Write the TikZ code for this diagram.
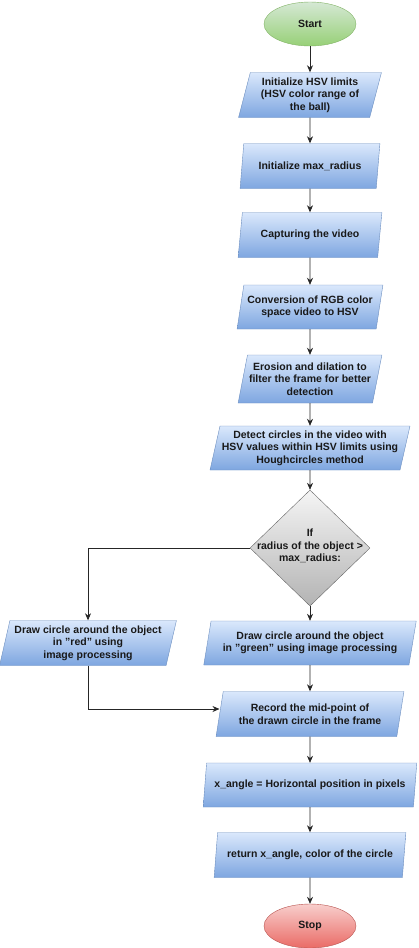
\documentclass[tikz,border=0pt]{standalone}
\usepackage{fontspec}
\setmainfont{Liberation Sans}
\usetikzlibrary{shapes.geometric,arrows.meta}
\definecolor{pbtop}{HTML}{DAE8FC}
\definecolor{pbbot}{HTML}{7EA6E0}
\definecolor{pbline}{HTML}{6C8EBF}
\definecolor{gtop}{HTML}{D5E8D4}
\definecolor{gbot}{HTML}{97D077}
\definecolor{gline}{HTML}{82B366}
\definecolor{rtop}{HTML}{F8CECC}
\definecolor{rbot}{HTML}{EA6B66}
\definecolor{rline}{HTML}{B85450}
\definecolor{dtop}{HTML}{F5F5F5}
\definecolor{dbot}{HTML}{B3B3B3}
\definecolor{dline}{HTML}{666666}
\begin{document}
\begin{tikzpicture}[x=1pt,y=-1pt,
  every node/.style={font=\fontsize{10.5}{12.5}\selectfont\bfseries, text=black!90},
  io/.style={trapezium, trapezium left angle=75, trapezium right angle=105,
    trapezium stretches=true, draw=pbline, top color=pbtop, bottom color=pbbot,
    align=center, inner sep=1pt, minimum height=45pt},
  term/.style={ellipse, minimum width=92pt, minimum height=44pt, inner sep=0pt},
  startst/.style={term, draw=gline, top color=gtop, bottom color=gbot},
  stopst/.style={term, draw=rline, top color=rtop, bottom color=rbot},
  decst/.style={diamond, draw=dline, top color=dtop, bottom color=dbot,
    minimum width=120pt, minimum height=116pt, inner sep=0pt},
  arr/.style={draw=black!85, line width=0.7pt, -{Stealth[length=7pt,width=6pt]}}
]
\useasboundingbox (0,0) rectangle (418,948);

\node[startst] (start) at (310,24) {Start};
\node[io, minimum width=143pt] (p1) at (310,95) {Initialize HSV limits\\(HSV color range of\\the ball)};
\node[io, minimum width=140pt] (p2) at (310,166) {Initialize max\_radius};
\node[io, minimum width=144pt] (p3) at (310,235) {Capturing the video};
\node[io, minimum width=146pt, minimum height=44pt] (p4) at (310,307) {Conversion of RGB color\\space video to HSV};
\node[io, minimum width=144pt, minimum height=48pt] (p5) at (310,379) {Erosion and dilation to\\filter the frame for better\\detection};
\node[io, minimum width=200pt, minimum height=44pt] (p6) at (310,448) {Detect circles in the video with\\HSV values within HSV limits using\\Houghcircles method};
\node[decst] (dec) at (310,548) {};
\node[align=center, inner sep=0pt] (dectext) at (310,546) {If\\radius of the object >\\max\_radius:};
\node[io, minimum width=177pt] (red) at (88,643) {Draw circle around the object\\in "red" using\\image processing};
\node[io, minimum width=213pt, minimum height=44pt] (green) at (310,643) {Draw circle around the object\\in "green" using image processing};
\node[io, minimum width=188pt] (rec) at (310,714) {Record the mid-point of\\the drawn circle in the frame};
\node[io, minimum width=214pt, minimum height=44pt] (xang) at (310,785) {x\_angle = Horizontal position in pixels};
\node[io, minimum width=192pt] (ret) at (310,855) {return x\_angle, color of the circle};
\node[stopst] (stop) at (310,926) {Stop};

\draw[arr] (start) -- (p1);
\draw[arr] (p1) -- (p2);
\draw[arr] (p2) -- (p3);
\draw[arr] (p3) -- (p4);
\draw[arr] (p4) -- (p5);
\draw[arr] (p5) -- (p6);
\draw[arr] (p6) -- (dec);
\draw[arr] (dec.west) -| (red.north);
\draw[arr] (dec) -- (green);
\draw[arr] (green) -- (rec);
\draw[arr] (red.south) |- ([yshift=5pt]rec.west);
\draw[arr] (rec) -- (xang);
\draw[arr] (xang) -- (ret);
\draw[arr] (ret) -- (stop);
\end{tikzpicture}
\end{document}
